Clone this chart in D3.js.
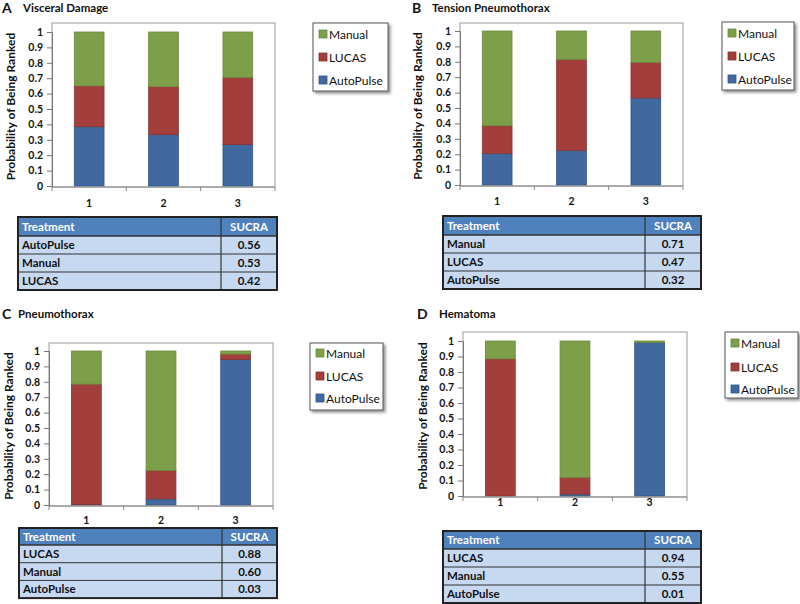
<!DOCTYPE html>
<html lang="en">
<head>
<meta charset="UTF-8">
<title>Rank probabilities</title>
<script src="https://d3js.org/d3.v7.min.js"></script>
<style>
    body { margin: 0; background: #fff; }
    svg { font-family: Lato, "Open Sans", sans-serif; }
</style>
</head>
<body>
<div id="chart"></div>
<script>
// ranks on the x axis and the three treatments
var ranks = [1, 2, 3];
var treatments = ["AutoPulse", "LUCAS", "Manual"];
var yTicks = [0, 0.1, 0.2, 0.3, 0.4, 0.5, 0.6, 0.7, 0.8, 0.9, 1];

// probability of being ranked 1/2/3
var visceralAutoPulse = [0.385, 0.335, 0.27];
var visceralLucas     = [0.265, 0.31, 0.435];
var visceralManual    = [0.35, 0.355, 0.295];

var tensionAutoPulse = [0.205, 0.225, 0.565];
var tensionLucas     = [0.18, 0.59, 0.23];
var tensionManual    = [0.615, 0.185, 0.205];

var pneumoAutoPulse = [0.003, 0.04, 0.945];
var pneumoLucas     = [0.782, 0.185, 0.035];
var pneumoManual    = [0.215, 0.775, 0.02];

var hematomaAutoPulse = [0.0, 0.012, 0.99];
var hematomaLucas     = [0.885, 0.108, 0.0];
var hematomaManual    = [0.115, 0.88, 0.01];

// SUCRA tables
var visceralSucra = [["AutoPulse", "0.56"], ["Manual", "0.53"], ["LUCAS", "0.42"]];
var tensionSucra  = [["Manual", "0.71"], ["LUCAS", "0.47"], ["AutoPulse", "0.32"]];
var pneumoSucra   = [["LUCAS", "0.88"], ["Manual", "0.60"], ["AutoPulse", "0.03"]];
var hematomaSucra = [["LUCAS", "0.94"], ["Manual", "0.55"], ["AutoPulse", "0.01"]];

var colors = { AutoPulse: "#41699f", LUCAS: "#a23f3c", Manual: "#7e9f4a" };
var edge   = { AutoPulse: "#2f5586", LUCAS: "#8a3431", Manual: "#6b893c" };

var svg = d3.select("#chart").append("svg")
    .attr("width", 800).attr("height", 604);

var defs = svg.append("defs");
var f = defs.append("filter").attr("id", "shadow")
    .attr("x", "-10%").attr("y", "-10%").attr("width", "130%").attr("height", "130%");
f.append("feDropShadow").attr("dx", 2).attr("dy", 2).attr("stdDeviation", 1.5)
    .attr("flood-color", "#000").attr("flood-opacity", 0.45);

var panels = [
    { letter: "A", title: "Visceral Damage", lx: 2, tx: 23, ty: 12,
      x0: 52, x1: 275, top: 23, yTop: 32, yBot: 186, ylabX: 11, labY: 207,
      leg: [313, 23, 75, 68], legY: [11, 34, 57],
      tab: [18, 277, 221, 217, 19, 18],
      vals: [visceralAutoPulse, visceralLucas, visceralManual], sucra: visceralSucra },
    { letter: "B", title: "Tension Pneumothorax", lx: 412, tx: 432, ty: 12,
      x0: 460, x1: 683, top: 23, yTop: 31, yBot: 185, ylabX: 418, labY: 205,
      leg: [722, 22, 72, 68], legY: [11, 34, 57],
      tab: [443, 701, 645, 216, 19, 18],
      vals: [tensionAutoPulse, tensionLucas, tensionManual], sucra: tensionSucra },
    { letter: "C", title: "Pneumothorax", lx: 2, tx: 18, ty: 318,
      x0: 49, x1: 273, top: 343, yTop: 351, yBot: 505, ylabX: 9, labY: 524,
      leg: [310, 343, 73, 67], legY: [10, 33, 55],
      tab: [19, 277, 222, 528, 17, 17.7],
      vals: [pneumoAutoPulse, pneumoLucas, pneumoManual], sucra: pneumoSucra },
    { letter: "D", title: "Hematoma", lx: 417, tx: 439, ty: 318,
      x0: 463, x1: 687, top: 332, yTop: 341, yBot: 496, ylabX: 423, labY: 506,
      leg: [725, 332, 73, 66], legY: [11, 35, 57],
      tab: [443, 701, 645, 531, 18, 18],
      vals: [hematomaAutoPulse, hematomaLucas, hematomaManual], sucra: hematomaSucra }
];

panels.forEach(drawPanel);

function drawPanel(p) {
    var g = svg.append("g");

    // title
    g.append("text").attr("x", p.lx).attr("y", p.ty + 1)
        .attr("font-size", 14).attr("font-weight", "bold").attr("fill", "#111")
        .text(p.letter);
    g.append("text").attr("x", p.tx).attr("y", p.ty)
        .attr("font-size", 11.5).attr("font-weight", "bold").attr("fill", "#111")
        .text(p.title);

    var x = d3.scaleBand().domain(ranks).range([p.x0, p.x1]);
    var y = d3.scaleLinear().domain([0, 1]).range([p.yBot, p.yTop]);

    // plot area frame
    g.append("rect")
        .attr("x", p.x0).attr("y", p.top)
        .attr("width", p.x1 - p.x0).attr("height", p.yBot + 1 - p.top)
        .attr("fill", "#fff").attr("stroke", "#9a9a9a").attr("stroke-width", 1);

    // stacked bars
    var rows = ranks.map(function(r, i) {
        var row = { rank: r };
        treatments.forEach(function(t, k) { row[t] = p.vals[k][i]; });
        return row;
    });
    var stacked = d3.stack().keys(treatments)(rows);
    var bw = x.bandwidth() * 0.4;

    g.selectAll(".layer").data(stacked).enter().append("g")
        .attr("fill", function(d) { return colors[d.key]; })
        .attr("stroke", function(d) { return edge[d.key]; })
        .attr("stroke-width", 0.8)
        .selectAll("rect").data(function(d) { return d; })
        .enter().append("rect")
        .attr("x", function(d) { return x(d.data.rank) + x.bandwidth() / 2 - bw / 2; })
        .attr("width", bw)
        .attr("y", function(d) { return y(d[1]); })
        .attr("height", function(d) { return Math.max(0, y(d[0]) - y(d[1])); });

    // y axis
    var ya = g.append("g").attr("transform", "translate(" + p.x0 + ",0)")
        .call(d3.axisLeft(y).tickValues(yTicks).tickSize(5).tickPadding(4)
            .tickFormat(function(d) { return d3.format("")(+d.toFixed(1)); }));
    ya.select(".domain").attr("stroke", "#777");
    ya.selectAll(".tick line").attr("stroke", "#777");
    ya.selectAll("text").attr("font-size", 10.5).attr("font-weight", "bold")
        .attr("fill", "#111").attr("font-family", "Lato, sans-serif");

    // x axis: ticks at band edges
    var xa = g.append("g").attr("transform", "translate(0," + (p.yBot + 1) + ")");
    xa.append("line").attr("x1", p.x0).attr("x2", p.x1)
        .attr("stroke", "#888");
    var edges = ranks.map(function(r) { return x(r); }).concat([p.x1]);
    xa.selectAll(".tk").data(edges).enter().append("line")
        .attr("x1", function(d) { return d; }).attr("x2", function(d) { return d; })
        .attr("y1", 0).attr("y2", 4).attr("stroke", "#888");
    g.selectAll(".xl").data(ranks).enter().append("text")
        .attr("x", function(d) { return x(d) + x.bandwidth() / 2; })
        .attr("y", p.labY)
        .attr("text-anchor", "middle").attr("font-size", 10.5)
        .attr("font-weight", "bold").attr("fill", "#111")
        .text(function(d) { return d; });

    // y axis label
    g.append("text")
        .attr("transform", "translate(" + (p.ylabX + 4) + "," + ((p.top + p.yBot) / 2 + 2) + ") rotate(-90)")
        .attr("text-anchor", "middle").attr("font-size", 12)
        .attr("font-weight", "bold").attr("fill", "#111")
        .text("Probability of Being Ranked");

    // legend
    var L = p.leg;
    var lg = g.append("g").attr("transform", "translate(" + L[0] + "," + L[1] + ")");
    lg.append("rect").attr("width", L[2]).attr("height", L[3])
        .attr("fill", "#fff").attr("stroke", "#555").attr("stroke-width", 1)
        .attr("filter", "url(#shadow)");
    var order = ["Manual", "LUCAS", "AutoPulse"];
    order.forEach(function(t, i) {
        lg.append("rect").attr("x", 6).attr("y", p.legY[i] - 4)
            .attr("width", 8).attr("height", 8)
            .attr("fill", colors[t]).attr("stroke", edge[t]).attr("stroke-width", 0.8);
        lg.append("text").attr("x", 16).attr("y", p.legY[i] + 4.5)
            .attr("font-size", 12).attr("fill", "#111").text(t);
    });

    // SUCRA table
    var T = p.tab;
    var tx0 = T[0], tx1 = T[1], tdiv = T[2], ttop = T[3], hh = T[4], rh = T[5];
    var tg = g.append("g");
    tg.append("rect").attr("x", tx0).attr("y", ttop).attr("width", tx1 - tx0).attr("height", hh)
        .attr("fill", "#4f81bd");
    p.sucra.forEach(function(r, i) {
        var ry = ttop + hh + i * rh;
        tg.append("rect").attr("x", tx0).attr("y", ry).attr("width", tx1 - tx0).attr("height", rh)
            .attr("fill", "#c6d9f1");
        tg.append("line").attr("x1", tx0).attr("x2", tx1).attr("y1", ry).attr("y2", ry)
            .attr("stroke", "#333").attr("stroke-width", i === 0 ? 1.5 : 1);
        tg.append("text").attr("x", tx0 + 4).attr("y", ry + rh / 2 + 4.2)
            .attr("font-size", 11.5).attr("font-weight", "bold").attr("fill", "#111").text(r[0]);
        tg.append("text").attr("x", (tdiv + tx1) / 2).attr("y", ry + rh / 2 + 4.2)
            .attr("text-anchor", "middle").attr("font-size", 11.5).attr("font-weight", "bold")
            .attr("fill", "#111").text(r[1]);
    });
    var th = hh + rh * p.sucra.length;
    tg.append("line").attr("x1", tdiv).attr("x2", tdiv).attr("y1", ttop).attr("y2", ttop + th)
        .attr("stroke", "#333").attr("stroke-width", 1.2);
    tg.append("rect").attr("x", tx0).attr("y", ttop).attr("width", tx1 - tx0).attr("height", th)
        .attr("fill", "none").attr("stroke", "#222").attr("stroke-width", 2);
    tg.append("text").attr("x", tx0 + 4).attr("y", ttop + hh / 2 + 4.2)
        .attr("font-size", 11.5).attr("font-weight", "bold").attr("fill", "#fff").text("Treatment");
    tg.append("text").attr("x", (tdiv + tx1) / 2).attr("y", ttop + hh / 2 + 4.2)
        .attr("text-anchor", "middle").attr("font-size", 11.5).attr("font-weight", "bold")
        .attr("fill", "#fff").text("SUCRA");
}
</script>
</body>
</html>
